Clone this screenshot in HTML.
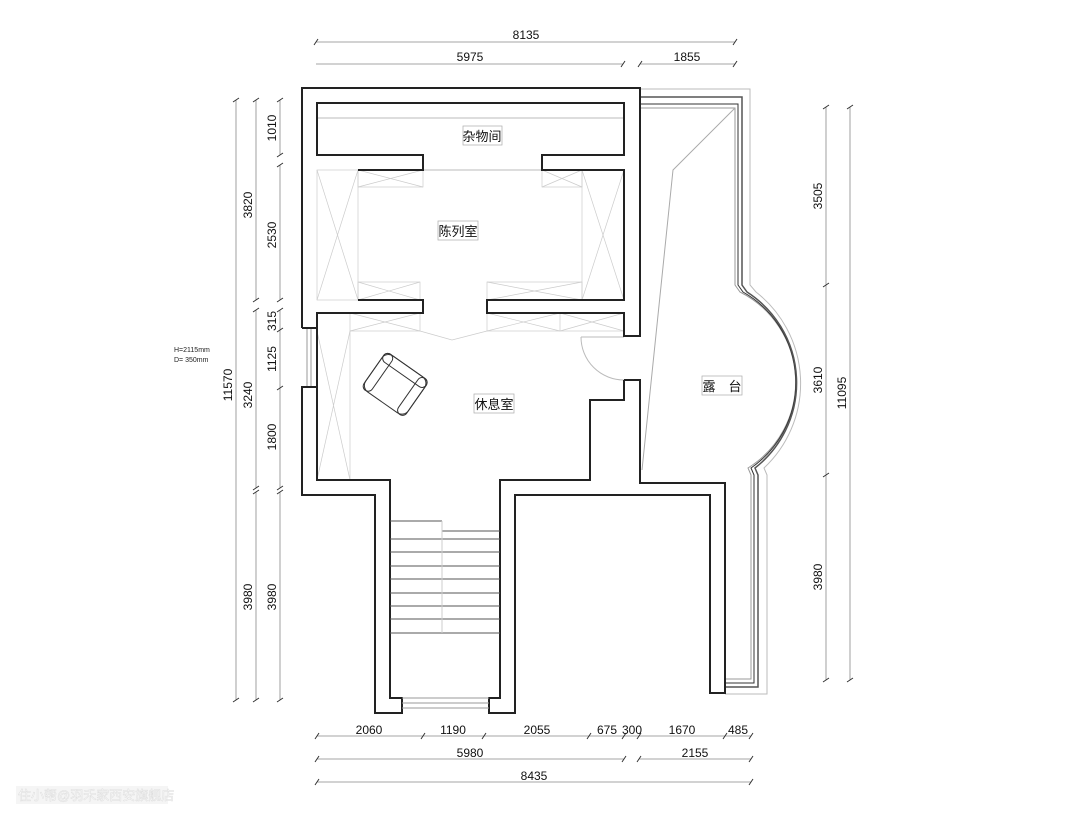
<!DOCTYPE html>
<html><head><meta charset="utf-8"><style>
html,body{margin:0;padding:0;background:#fff;}
svg{display:block}
.d{stroke:#222;stroke-width:2;fill:none}
.g{stroke:#aaa;stroke-width:1;fill:none}
.l{stroke:#ccc;stroke-width:.7;fill:none}
.dm{stroke:#888;stroke-width:.8;fill:none}
.t{font-family:"Liberation Sans",sans-serif;font-size:12px;fill:#111}
.c{font-family:"Liberation Sans","Noto Sans CJK SC",sans-serif;font-size:13px;fill:#111}
</style></head><body>
<svg width="1080" height="822" viewBox="0 0 1080 822" xmlns="http://www.w3.org/2000/svg">
<rect width="1080" height="822" fill="#fff"/>
<g class="dm">
<line x1="316" y1="42" x2="735" y2="42"/>
<line x1="316" y1="64" x2="623" y2="64"/><line x1="640" y1="64" x2="735" y2="64"/>
<line x1="236" y1="100" x2="236" y2="700"/>
<line x1="256" y1="100" x2="256" y2="300"/><line x1="256" y1="310" x2="256" y2="488"/><line x1="256" y1="492" x2="256" y2="700"/>
<line x1="280" y1="100" x2="280" y2="155"/><line x1="280" y1="165" x2="280" y2="300"/><line x1="280" y1="310" x2="280" y2="488"/><line x1="280" y1="492" x2="280" y2="700"/>
<line x1="826" y1="107" x2="826" y2="680"/>
<line x1="850" y1="107" x2="850" y2="680"/>
<line x1="317" y1="736" x2="751" y2="736"/>
<line x1="317" y1="759" x2="624" y2="759"/><line x1="639" y1="759" x2="751" y2="759"/>
<line x1="317" y1="782" x2="751" y2="782"/>
</g>
<g stroke="#333" stroke-width="1">
<path d="M314,45l4,-6M621,67l4,-6M638,67l4,-6M733,45l4,-6M733,67l4,-6"/>
<path d="M233,102l6,-4M233,702l6,-4M253,102l6,-4M253,302l6,-4M253,312l6,-4M253,490l6,-4M253,494l6,-4M253,702l6,-4"/>
<path d="M277,102l6,-4M277,157l6,-4M277,167l6,-4M277,302l6,-4M277,312l6,-4M277,332l6,-4M277,390l6,-4M277,490l6,-4M277,494l6,-4M277,702l6,-4"/>
<path d="M823,109l6,-4M823,287l6,-4M823,477l6,-4M823,682l6,-4M847,109l6,-4M847,682l6,-4"/>
<path d="M315,739l4,-6M421,739l4,-6M482,739l4,-6M587,739l4,-6M622,739l4,-6M637,739l4,-6M723,739l4,-6M749,739l4,-6"/>
<path d="M315,762l4,-6M622,762l4,-6M637,762l4,-6M749,762l4,-6M315,785l4,-6M749,785l4,-6"/>
</g>
<g class="t" text-anchor="middle">
<text x="526" y="39">8135</text><text x="470" y="61">5975</text><text x="687" y="61">1855</text>
<text x="369" y="734">2060</text><text x="453" y="734">1190</text><text x="537" y="734">2055</text><text x="607" y="734">675</text><text x="632" y="734">300</text><text x="682" y="734">1670</text><text x="738" y="734">485</text>
<text x="470" y="757">5980</text><text x="695" y="757">2155</text><text x="534" y="780">8435</text>
<text transform="translate(232,385) rotate(-90)">11570</text>
<text transform="translate(252,205) rotate(-90)">3820</text>
<text transform="translate(252,395) rotate(-90)">3240</text>
<text transform="translate(252,597) rotate(-90)">3980</text>
<text transform="translate(276,128) rotate(-90)">1010</text>
<text transform="translate(276,235) rotate(-90)">2530</text>
<text transform="translate(276,321) rotate(-90)">315</text>
<text transform="translate(276,359) rotate(-90)">1125</text>
<text transform="translate(276,437) rotate(-90)">1800</text>
<text transform="translate(276,597) rotate(-90)">3980</text>
<text transform="translate(822,196) rotate(-90)">3505</text>
<text transform="translate(822,380) rotate(-90)">3610</text>
<text transform="translate(822,577) rotate(-90)">3980</text>
<text transform="translate(846,393) rotate(-90)">11095</text>
</g>
<text x="174" y="352" style="font-family:'Liberation Sans',sans-serif;font-size:7px;fill:#222">H=2115mm</text>
<text x="174" y="362" style="font-family:'Liberation Sans',sans-serif;font-size:7px;fill:#222">D= 350mm</text>
<g fill="none">
<path d="M640,108 L735,108 L735,285 L740,292 A101,101 0 0 1 748,468 L751,475 L751,679 L725,679" stroke="#999" stroke-width="1"/>
<path d="M640,104 L738,104 L738,285 L743,292 A104,104 0 0 1 751,468 L754,475 L754,683 L725,683" stroke="#333" stroke-width="1"/>
<path d="M640,97 L742,97 L742,285 L747,292 A108,108 0 0 1 755,468 L758,475 L758,687 L725,687" stroke="#555" stroke-width="1.5"/>
<path d="M640,89 L750,89 L750,285 L756,292 A116,116 0 0 1 764,468 L767,475 L767,694 L725,694" stroke="#bbb" stroke-width="1"/>
</g>
<path d="M735,108 L673,170 L642,470" class="g"/>
<g class="l">
<rect x="317" y="170" width="41" height="130"/><path d="M317,170L358,300M358,170L317,300"/>
<rect x="582" y="170" width="42" height="130"/><path d="M582,170L624,300M624,170L582,300"/>
<rect x="358" y="170" width="65" height="17"/><path d="M358,170L423,187M423,170L358,187"/>
<rect x="542" y="170" width="40" height="17"/><path d="M542,170L582,187M582,170L542,187"/>
<rect x="358" y="282" width="62" height="18"/><path d="M358,282L420,300M420,282L358,300"/>
<rect x="487" y="282" width="95" height="18"/><path d="M487,282L582,300M582,282L487,300"/>
<rect x="350" y="313" width="70" height="18"/><path d="M350,313L420,331M420,313L350,331"/>
<rect x="487" y="313" width="137" height="18"/><path d="M487,313L560,331M560,313L487,331M560,313L624,331M624,313L560,331"/><line x1="560" y1="313" x2="560" y2="331"/>
<line x1="350" y1="331" x2="350" y2="480"/><path d="M317,331L350,480M350,331L317,480"/>
<path d="M420,331 L452,340 L487,331" />
</g>
<line x1="317" y1="118" x2="624" y2="118" stroke="#bbb" stroke-width="1"/>
<line x1="423" y1="170" x2="542" y2="170" stroke="#bbb" stroke-width="1"/>
<g stroke="#999" stroke-width="1"><line x1="307" y1="328" x2="307" y2="387"/><line x1="311" y1="328" x2="311" y2="387"/></g>
<path d="M581,337 L624,337 M581,337 A43,43 0 0 0 624,380" stroke="#bbb" stroke-width="1" fill="none"/>
<g class="d">
<path d="M302,328 L302,88 L640,88 L640,336 L624,336 L624,313 L487,313 L487,300 L624,300 L624,170 L542,170 L542,155 L624,155 L624,103 L317,103 L317,155 L423,155 L423,170 L358,170"/>
<path d="M358,300 L423,300 L423,313 L317,313 L317,480 L390,480 L390,698 L402,698 L402,713 L375,713 L375,495 L302,495 L302,387 L317,387"/>
<path d="M302,328 L317,328"/>
<path d="M624,380 L640,380 L640,483 L725,483 L725,693 L710,693 L710,495 L515,495 L515,713 L489,713 L489,698 L500,698 L500,480 L590,480 L590,400 L624,400 L624,380"/>
</g>
<g stroke="#999" stroke-width="1"><line x1="402" y1="703" x2="489" y2="703"/><line x1="402" y1="708" x2="489" y2="708"/><line x1="402" y1="698" x2="489" y2="698"/></g>
<g stroke="#555" stroke-width="1">
<line x1="390" y1="521" x2="442" y2="521"/><line x1="442" y1="531" x2="500" y2="531"/>
<line x1="390" y1="539" x2="500" y2="539"/><line x1="390" y1="552" x2="500" y2="552"/><line x1="390" y1="566" x2="500" y2="566"/><line x1="390" y1="579" x2="500" y2="579"/><line x1="390" y1="593" x2="500" y2="593"/><line x1="390" y1="606" x2="500" y2="606"/><line x1="390" y1="619" x2="500" y2="619"/><line x1="390" y1="633" x2="500" y2="633"/>
</g>
<line x1="442" y1="521" x2="442" y2="633" stroke="#ccc" stroke-width="1"/>
<g transform="translate(394,386) rotate(35)" fill="none" stroke="#333" stroke-width="1">
<rect x="-26" y="-24" width="52" height="44" rx="8"/>
<rect x="-26" y="-24" width="52" height="10" rx="5"/>
<rect x="-26" y="-24" width="10" height="44" rx="5"/>
<rect x="16" y="-24" width="10" height="44" rx="5"/>
</g>
<g class="c" text-anchor="middle">
<rect x="463" y="126" width="39" height="19" fill="#fff" stroke="#aaa" stroke-width=".7"/><text x="482" y="141">杂物间</text>
<rect x="438" y="221" width="40" height="19" fill="#fff" stroke="#aaa" stroke-width=".7"/><text x="458" y="236">陈列室</text>
<rect x="474" y="394" width="40" height="19" fill="#fff" stroke="#aaa" stroke-width=".7"/><text x="494" y="409">休息室</text>
<rect x="702" y="376" width="40" height="19" fill="#fff" stroke="#aaa" stroke-width=".7"/><text x="722" y="391">露　台</text>
</g>
<rect x="16" y="786" width="152" height="18" fill="#f2f2f2" opacity=".8"/>
<text x="18" y="800" style="font-family:'Liberation Sans','Noto Sans CJK SC',sans-serif;font-size:13px;fill:#fff;stroke:#ddd;stroke-width:.5">住小帮@羽禾家西安旗舰店</text>
</svg>
</body></html>
